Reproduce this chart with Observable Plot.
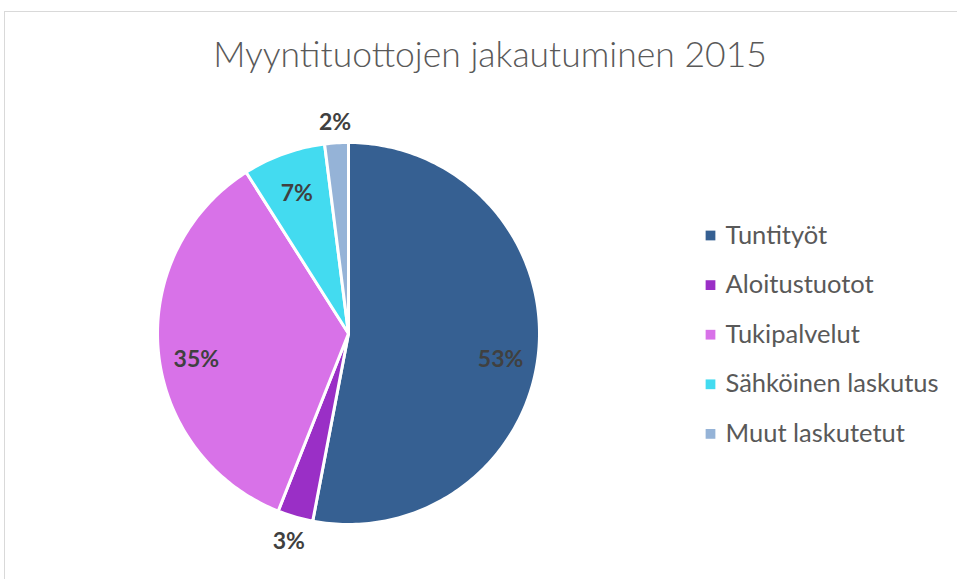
<!DOCTYPE html>
<html><head><meta charset="utf-8">
<script src="https://cdn.jsdelivr.net/npm/d3@7"></script>
<script src="https://cdn.jsdelivr.net/npm/@observablehq/plot@0.6"></script>
<style>
body{margin:0;background:#fff;}
#wrap{position:relative;width:957px;height:579px;overflow:hidden;}
#border{position:absolute;left:4px;top:11px;width:990px;height:620px;border:1px solid #d9d9d9;box-sizing:border-box;}
#chart{position:absolute;left:0;top:0;}
</style></head><body>
<div id="wrap"><div id="border"></div><div id="chart"></div></div>
<script>
const title = "Myyntituottojen jakautuminen 2015";
const categories = ["Tuntityöt", "Aloitustuotot", "Tukipalvelut", "Sähköinen laskutus", "Muut laskutetut"];
const values = [53, 3, 35, 7, 2];
const colors = ["#366092", "#9a2fc6", "#d872e8", "#43dbf0", "#95b3d7"];

// layout (pixels)
const W = 957, H = 579, cx = 348, cy = 333, R = 191;
const font = "Lato, 'Open Sans', sans-serif";

const data = categories.map((c, i) => ({category: c, value: values[i]}));
const arcs = d3.pie().sort(null).value(d => d.value)(data);

// polygon outline of each slice, in radius units
const slicePts = [];
arcs.forEach(a => {
  const n = Math.max(2, Math.ceil((a.endAngle - a.startAngle) / (Math.PI / 180)));
  slicePts.push({category: a.data.category, x: 0, y: 0});
  for (let k = 0; k <= n; k++) {
    const t = a.startAngle + (a.endAngle - a.startAngle) * k / n;
    slicePts.push({category: a.data.category, x: Math.sin(t), y: Math.cos(t)});
  }
  slicePts.push({category: a.data.category, x: 0, y: 0});
});

const labels = arcs.map(a => {
  const m = (a.startAngle + a.endAngle) / 2;
  const inside = a.data.value >= 5;
  const r = inside ? 0.8 : 1.12;
  // inside labels sit a little lower, more so near the horizontal
  const dy = inside ? 12 * Math.abs(Math.sin(m)) : 3;
  return {text: `${a.data.value}%`, x: r * Math.sin(m), y: r * Math.cos(m), dy};
});

const legendX = (710 - cx) / R, legendTextX = (725 - cx) / R;
const legendY0 = (cy - 235) / R, legendStep = 49.6 / R;
const legend = categories.map((c, i) => ({category: c, x: legendX, tx: legendTextX, y: legendY0 - i * legendStep}));

const chart = Plot.plot({
  width: W, height: H,
  margin: 0,
  style: {background: "transparent", fontFamily: font},
  x: {domain: [-cx / R, (W - cx) / R], axis: null},
  y: {domain: [-(H - cy) / R, cy / R], axis: null},
  color: {domain: categories, range: colors},
  marks: [
    Plot.line(slicePts, {x: "x", y: "y", z: "category", fill: "category", stroke: "white", strokeWidth: 3, strokeLinejoin: "round"}),
    ...labels.map(l => Plot.text([l], {x: "x", y: "y", text: "text", fill: "#404040", fontSize: 23, fontWeight: "bold", dy: l.dy})),
    Plot.dot(legend, {x: "x", y: "y", fill: "category", symbol: "square", r: 5.5, stroke: null}),
    Plot.text(legend, {x: "tx", y: "y", text: "category", textAnchor: "start", fill: "#595959", fontSize: 25.5}),
    Plot.text([title], {frameAnchor: "top", dx: 11, dy: 55, lineAnchor: "middle", text: d => d, fill: "#595959", fontSize: 35.5, fontWeight: 300})
  ]
});
document.getElementById("chart").appendChild(chart);
</script>
</body></html>
